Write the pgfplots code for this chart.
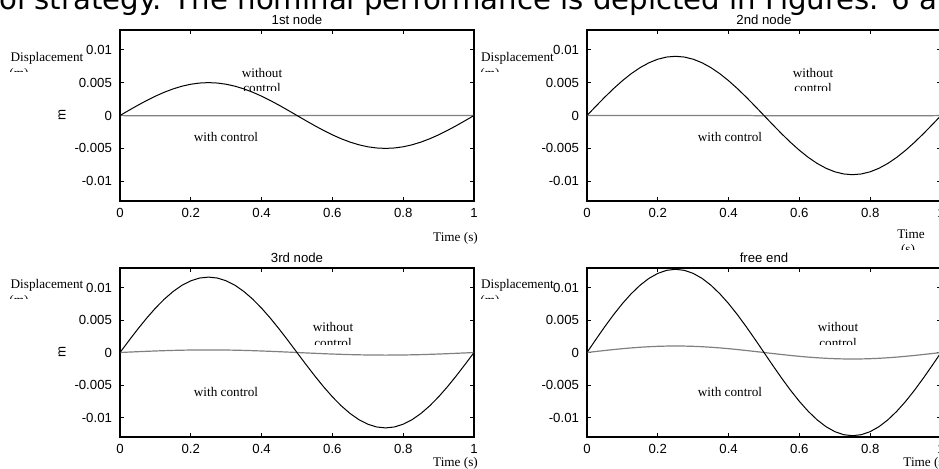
\documentclass[border=0pt]{standalone}
\usepackage{pgfplots}
\pgfplotsset{compat=1.18}
\usepackage{pgfplotstable}
\usepackage{fontspec}
\setmainfont{Liberation Serif}
\newfontfamily\arial{Liberation Sans}
\newfontfamily\verdana{DejaVu Sans}

% displacement of each node, without control (a1..a4) and with control (c3, c4)
\pgfplotstableread{
t a1 a2 a3 a4 c3 c4
0 0 0 0 0 0 0
0.025 0.000782 0.001408 0.001815 0.002002 0.000063 0.000156
0.05 0.001545 0.002781 0.003585 0.003955 0.000124 0.000309
0.075 0.002270 0.004086 0.005266 0.005811 0.000182 0.000454
0.1 0.002939 0.005290 0.006818 0.007524 0.000235 0.000588
0.125 0.003536 0.006364 0.008202 0.009051 0.000283 0.000707
0.15 0.004045 0.007281 0.009385 0.010355 0.000324 0.000809
0.175 0.004455 0.008019 0.010336 0.011405 0.000356 0.000891
0.2 0.004755 0.008560 0.011032 0.012174 0.000380 0.000951
0.225 0.004938 0.008889 0.011457 0.012642 0.000395 0.000988
0.25 0.005 0.009 0.0116 0.0128 0.0004 0.001
0.275 0.004938 0.008889 0.011457 0.012642 0.000395 0.000988
0.3 0.004755 0.008560 0.011032 0.012174 0.000380 0.000951
0.325 0.004455 0.008019 0.010336 0.011405 0.000356 0.000891
0.35 0.004045 0.007281 0.009385 0.010355 0.000324 0.000809
0.375 0.003536 0.006364 0.008202 0.009051 0.000283 0.000707
0.4 0.002939 0.005290 0.006818 0.007524 0.000235 0.000588
0.425 0.002270 0.004086 0.005266 0.005811 0.000182 0.000454
0.45 0.001545 0.002781 0.003585 0.003955 0.000124 0.000309
0.475 0.000782 0.001408 0.001815 0.002002 0.000063 0.000156
0.5 0 0 0 0 0 0
0.525 -0.000782 -0.001408 -0.001815 -0.002002 -0.000063 -0.000156
0.55 -0.001545 -0.002781 -0.003585 -0.003955 -0.000124 -0.000309
0.575 -0.002270 -0.004086 -0.005266 -0.005811 -0.000182 -0.000454
0.6 -0.002939 -0.005290 -0.006818 -0.007524 -0.000235 -0.000588
0.625 -0.003536 -0.006364 -0.008202 -0.009051 -0.000283 -0.000707
0.65 -0.004045 -0.007281 -0.009385 -0.010355 -0.000324 -0.000809
0.675 -0.004455 -0.008019 -0.010336 -0.011405 -0.000356 -0.000891
0.7 -0.004755 -0.008560 -0.011032 -0.012174 -0.000380 -0.000951
0.725 -0.004938 -0.008889 -0.011457 -0.012642 -0.000395 -0.000988
0.75 -0.005 -0.009 -0.0116 -0.0128 -0.0004 -0.001
0.775 -0.004938 -0.008889 -0.011457 -0.012642 -0.000395 -0.000988
0.8 -0.004755 -0.008560 -0.011032 -0.012174 -0.000380 -0.000951
0.825 -0.004455 -0.008019 -0.010336 -0.011405 -0.000356 -0.000891
0.85 -0.004045 -0.007281 -0.009385 -0.010355 -0.000324 -0.000809
0.875 -0.003536 -0.006364 -0.008202 -0.009051 -0.000283 -0.000707
0.9 -0.002939 -0.005290 -0.006818 -0.007524 -0.000235 -0.000588
0.925 -0.002270 -0.004086 -0.005266 -0.005811 -0.000182 -0.000454
0.95 -0.001545 -0.002781 -0.003585 -0.003955 -0.000124 -0.000309
0.975 -0.000782 -0.001408 -0.001815 -0.002002 -0.000063 -0.000156
1 0 0 0 0 0 0
}\disp

\pgfplotsset{
  nodeplot/.style={
    scale only axis, width=177pt, anchor=north west,
    xmin=0, xmax=1, ymin=-0.013, ymax=0.013,
    scaled ticks=false,
    xtick={0,0.2,0.4,0.6,0.8,1}, xticklabels={0,0.2,0.4,0.6,0.8,1},
    ytick={-0.01,-0.005,0,0.005,0.01}, yticklabels={-0.01,-0.005,0,0.005,0.01},
    tick label style={font=\arial\fontsize{6.6}{7.5}\selectfont},
    xticklabel style={yshift=-0.3pt},
    yticklabel style={xshift=-0.5pt},
    title style={font=\arial\fontsize{6.6}{7.5}\selectfont, anchor=center, yshift=-1pt},
    axis line style={line width=0.6pt},
    major tick length=2pt,
    every tick/.style={black, line width=0.4pt},
  },
  free/.style={black, line width=0.5pt},
  ctrl/.style={black!50, line width=0.6pt},
}

\begin{document}
\begin{tikzpicture}
\path[use as bounding box] (0,0) rectangle (469.5pt,-234pt);
\clip (0,0) rectangle (469.5pt,-234pt);

\begin{axis}[nodeplot, at={(60pt,-15pt)}, height=85.5pt, title={1st node}]
\addplot[ctrl] coordinates {(0,0) (0.03,-0.00005) (0.5,-0.00005) (0.52,0) (1,0)};
\addplot[free] table[x=t, y=a1] {\disp};
\end{axis}

\begin{axis}[nodeplot, at={(293.5pt,-15pt)}, height=85.5pt, title={2nd node}]
\addplot[ctrl] coordinates {(0,0) (0.45,0) (0.5,-0.00005) (0.95,-0.00005) (1,0)};
\addplot[free] table[x=t, y=a2] {\disp};
\end{axis}

\begin{axis}[nodeplot, at={(60pt,-134pt)}, height=84.5pt, title={3rd node}]
\addplot[ctrl] table[x=t, y=c3] {\disp};
\addplot[free] table[x=t, y=a3] {\disp};
\end{axis}

\begin{axis}[nodeplot, at={(293.5pt,-134pt)}, height=84.5pt, title={free end}]
\addplot[ctrl] table[x=t, y=c4] {\disp};
\addplot[free] table[x=t, y=a4] {\disp};
\end{axis}

\begin{scope}[x=0.5pt, y=-0.5pt, every node/.style={inner sep=0pt, font=\fontsize{6.6}{7.5}\selectfont}]
% text of the page above the figure
\node[anchor=base west, font=\verdana\fontsize{14.6}{16}\selectfont] at (-1,9.5)
  {ol strategy. The nominal performance is depicted in Figures. 6 and 7};

% 1st node
\node[anchor=base] at (47,61.5) {Displacement};
\begin{scope}\clip (0,60) rectangle (60,71); \node[anchor=base] at (19,77) {(m)}; \end{scope}
\node[rotate=90, font=\arial\fontsize{6.6}{7.5}\selectfont] at (62,115) {m};
\node[anchor=base] at (262,77.5) {without};
\begin{scope}\clip (220,80) rectangle (310,90); \node[anchor=base] at (262,92.5) {control}; \end{scope}
\node[anchor=base] at (226,141.5) {with control};
\node[anchor=base] at (455.5,241.5) {Time (s)};

% 2nd node
\node[anchor=base] at (517.5,61.5) {Displacement};
\begin{scope}\clip (470,60) rectangle (540,71); \node[anchor=base] at (490,77) {(m)}; \end{scope}
\node[anchor=base] at (813,77.5) {without};
\begin{scope}\clip (770,80) rectangle (860,90); \node[anchor=base] at (813,92.5) {control}; \end{scope}
\node[anchor=base] at (730,141.5) {with control};
\node[anchor=base] at (911,238.5) {Time};
\begin{scope}\clip (880,240) rectangle (939,249); \node[anchor=base] at (908,253) {(s)}; \end{scope}

% 3rd node
\node[anchor=base] at (47,288.5) {Displacement};
\begin{scope}\clip (0,287) rectangle (60,298); \node[anchor=base] at (19,304) {(m)}; \end{scope}
\node[rotate=90, font=\arial\fontsize{6.6}{7.5}\selectfont] at (62,352) {m};
\node[anchor=base] at (333,331.5) {without};
\begin{scope}\clip (290,334) rectangle (380,344.5); \node[anchor=base] at (333,347) {control}; \end{scope}
\node[anchor=base] at (226,396.5) {with control};
\node[anchor=base] at (455.5,466.5) {Time (s)};

% free end
\node[anchor=base] at (517.5,288.5) {Displacement};
\begin{scope}\clip (470,287) rectangle (540,298); \node[anchor=base] at (490,304) {(m)}; \end{scope}
\node[anchor=base] at (838,331.5) {without};
\begin{scope}\clip (795,334) rectangle (885,344.5); \node[anchor=base] at (838,347) {control}; \end{scope}
\node[anchor=base] at (730,396.5) {with control};
\node[anchor=base west] at (903,466.5) {Time (s)};
\end{scope}
\end{tikzpicture}
\end{document}
